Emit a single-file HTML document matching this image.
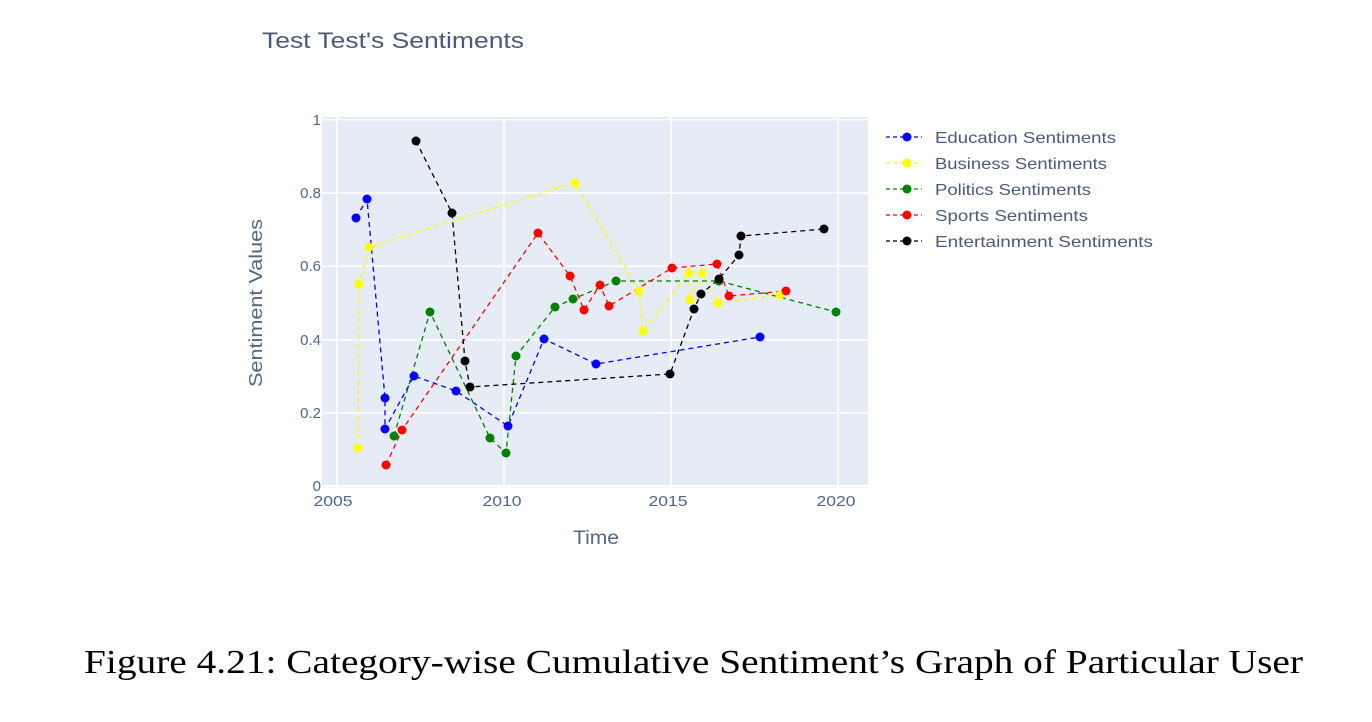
<!DOCTYPE html>
<html><head><meta charset="utf-8"><style>
html,body{margin:0;padding:0;background:#fff;}
svg{display:block;}
</style></head><body>
<svg width="1372" height="722" viewBox="0 0 1372 722" xmlns="http://www.w3.org/2000/svg">
<rect width="1372" height="722" fill="#fff"/>
<text x="262" y="48" font-family="Liberation Sans, DejaVu Sans, sans-serif" font-size="22" fill="#4a5a78" textLength="262" lengthAdjust="spacingAndGlyphs">Test Test's Sentiments</text>
<rect x="322" y="117" width="546" height="371" fill="#e5ecf6"/>
<g stroke="#fff" stroke-width="1.5">
<line x1="322" x2="868" y1="486.3" y2="486.3" stroke-width="2.5"/>
<line x1="322" x2="868" y1="413" y2="413"/>
<line x1="322" x2="868" y1="339.7" y2="339.7"/>
<line x1="322" x2="868" y1="266.3" y2="266.3"/>
<line x1="322" x2="868" y1="193" y2="193"/>
<line x1="322" x2="868" y1="119.6" y2="119.6"/>
<line y1="117" y2="488" x1="337" x2="337"/>
<line y1="117" y2="488" x1="504" x2="504"/>
<line y1="117" y2="488" x1="671" x2="671"/>
<line y1="117" y2="488" x1="838" x2="838"/>
</g>
<g font-family="Liberation Sans, DejaVu Sans, sans-serif" font-size="15" fill="#506784" text-anchor="end">
<text x="321" y="491">0</text><text x="321" y="418">0.2</text><text x="321" y="345">0.4</text>
<text x="321" y="271">0.6</text><text x="321" y="198">0.8</text><text x="321" y="125">1</text>
</g>
<g font-family="Liberation Sans, DejaVu Sans, sans-serif" font-size="15" fill="#506784" text-anchor="middle">
<text x="333" y="506" textLength="39" lengthAdjust="spacingAndGlyphs">2005</text><text x="502" y="506" textLength="39" lengthAdjust="spacingAndGlyphs">2010</text><text x="668" y="506" textLength="39" lengthAdjust="spacingAndGlyphs">2015</text><text x="836" y="506" textLength="39" lengthAdjust="spacingAndGlyphs">2020</text>
</g>
<text x="596" y="544" font-family="Liberation Sans, DejaVu Sans, sans-serif" font-size="19" fill="#506784" text-anchor="middle" textLength="46" lengthAdjust="spacingAndGlyphs">Time</text>
<text transform="translate(262,303) rotate(-90)" font-family="Liberation Sans, DejaVu Sans, sans-serif" font-size="18" fill="#506784" text-anchor="middle" textLength="168" lengthAdjust="spacingAndGlyphs">Sentiment Values</text>
<g fill="none" stroke-width="1.3" stroke-dasharray="5,4">
<polyline stroke="#0000ff" points="356,218 367,199 385,398 385,429 414,376 456,391 508,426 544,339 596,364 760,337"/>
<polyline stroke="#ffff00" points="358,448 359,284 369,247 575,183 639,291 643,331 689,273 690,300 702,273 718,303 780,295"/>
<polyline stroke="#008000" points="394,436 430,312 490,438 506,453 516,356 555,307 573,299 616,281 719,281 836,312"/>
<polyline stroke="#ff0000" points="386,465 402,430 538,233 570,276 584,310 600,285 609,306 672,268 717,264 729,296 786,291"/>
<polyline stroke="#000000" points="416,141 452,213 465,361 470,387 670,374 694,309 701,294 719,279 739,255 741,236 824,229"/>
</g>
<g fill="#0000ff"><circle cx="356" cy="218" r="4.5"/><circle cx="367" cy="199" r="4.5"/><circle cx="385" cy="398" r="4.5"/><circle cx="385" cy="429" r="4.5"/><circle cx="414" cy="376" r="4.5"/><circle cx="456" cy="391" r="4.5"/><circle cx="508" cy="426" r="4.5"/><circle cx="544" cy="339" r="4.5"/><circle cx="596" cy="364" r="4.5"/><circle cx="760" cy="337" r="4.5"/></g>
<g fill="#ffff00"><circle cx="358" cy="448" r="4.5"/><circle cx="359" cy="284" r="4.5"/><circle cx="369" cy="247" r="4.5"/><circle cx="575" cy="183" r="4.5"/><circle cx="639" cy="291" r="4.5"/><circle cx="643" cy="331" r="4.5"/><circle cx="689" cy="273" r="4.5"/><circle cx="690" cy="300" r="4.5"/><circle cx="702" cy="273" r="4.5"/><circle cx="718" cy="303" r="4.5"/><circle cx="780" cy="295" r="4.5"/></g>
<g fill="#008000"><circle cx="394" cy="436" r="4.5"/><circle cx="430" cy="312" r="4.5"/><circle cx="490" cy="438" r="4.5"/><circle cx="506" cy="453" r="4.5"/><circle cx="516" cy="356" r="4.5"/><circle cx="555" cy="307" r="4.5"/><circle cx="573" cy="299" r="4.5"/><circle cx="616" cy="281" r="4.5"/><circle cx="719" cy="281" r="4.5"/><circle cx="836" cy="312" r="4.5"/></g>
<g fill="#ff0000"><circle cx="386" cy="465" r="4.5"/><circle cx="402" cy="430" r="4.5"/><circle cx="538" cy="233" r="4.5"/><circle cx="570" cy="276" r="4.5"/><circle cx="584" cy="310" r="4.5"/><circle cx="600" cy="285" r="4.5"/><circle cx="609" cy="306" r="4.5"/><circle cx="672" cy="268" r="4.5"/><circle cx="717" cy="264" r="4.5"/><circle cx="729" cy="296" r="4.5"/><circle cx="786" cy="291" r="4.5"/></g>
<g fill="#000000"><circle cx="416" cy="141" r="4.5"/><circle cx="452" cy="213" r="4.5"/><circle cx="465" cy="361" r="4.5"/><circle cx="470" cy="387" r="4.5"/><circle cx="670" cy="374" r="4.5"/><circle cx="694" cy="309" r="4.5"/><circle cx="701" cy="294" r="4.5"/><circle cx="719" cy="279" r="4.5"/><circle cx="739" cy="255" r="4.5"/><circle cx="741" cy="236" r="4.5"/><circle cx="824" cy="229" r="4.5"/></g>
<g stroke-width="1.3" stroke-dasharray="4,3">
<line x1="886" x2="922" y1="137" y2="137" stroke="#0000ff"/>
<line x1="886" x2="922" y1="163" y2="163" stroke="#ffff00"/>
<line x1="886" x2="922" y1="189" y2="189" stroke="#008000"/>
<line x1="886" x2="922" y1="215" y2="215" stroke="#ff0000"/>
<line x1="886" x2="922" y1="241" y2="241" stroke="#000000"/>
</g>
<circle cx="907" cy="137" r="4.5" fill="#0000ff"/><circle cx="907" cy="163" r="4.5" fill="#ffff00"/><circle cx="907" cy="189" r="4.5" fill="#008000"/><circle cx="907" cy="215" r="4.5" fill="#ff0000"/><circle cx="907" cy="241" r="4.5" fill="#000000"/>
<g font-family="Liberation Sans, DejaVu Sans, sans-serif" font-size="16" fill="#4a5a78" lengthAdjust="spacingAndGlyphs">
<text x="935" y="143" textLength="181" lengthAdjust="spacingAndGlyphs">Education Sentiments</text>
<text x="935" y="169" textLength="172" lengthAdjust="spacingAndGlyphs">Business Sentiments</text>
<text x="935" y="195" textLength="156" lengthAdjust="spacingAndGlyphs">Politics Sentiments</text>
<text x="935" y="221" textLength="153" lengthAdjust="spacingAndGlyphs">Sports Sentiments</text>
<text x="935" y="247" textLength="218" lengthAdjust="spacingAndGlyphs">Entertainment Sentiments</text>
</g>
<text x="84" y="673" font-family="Liberation Serif, DejaVu Serif, serif" font-size="34" fill="#000" textLength="1219" lengthAdjust="spacingAndGlyphs">Figure 4.21: Category-wise Cumulative Sentiment’s Graph of Particular User</text>
</svg>
</body></html>
